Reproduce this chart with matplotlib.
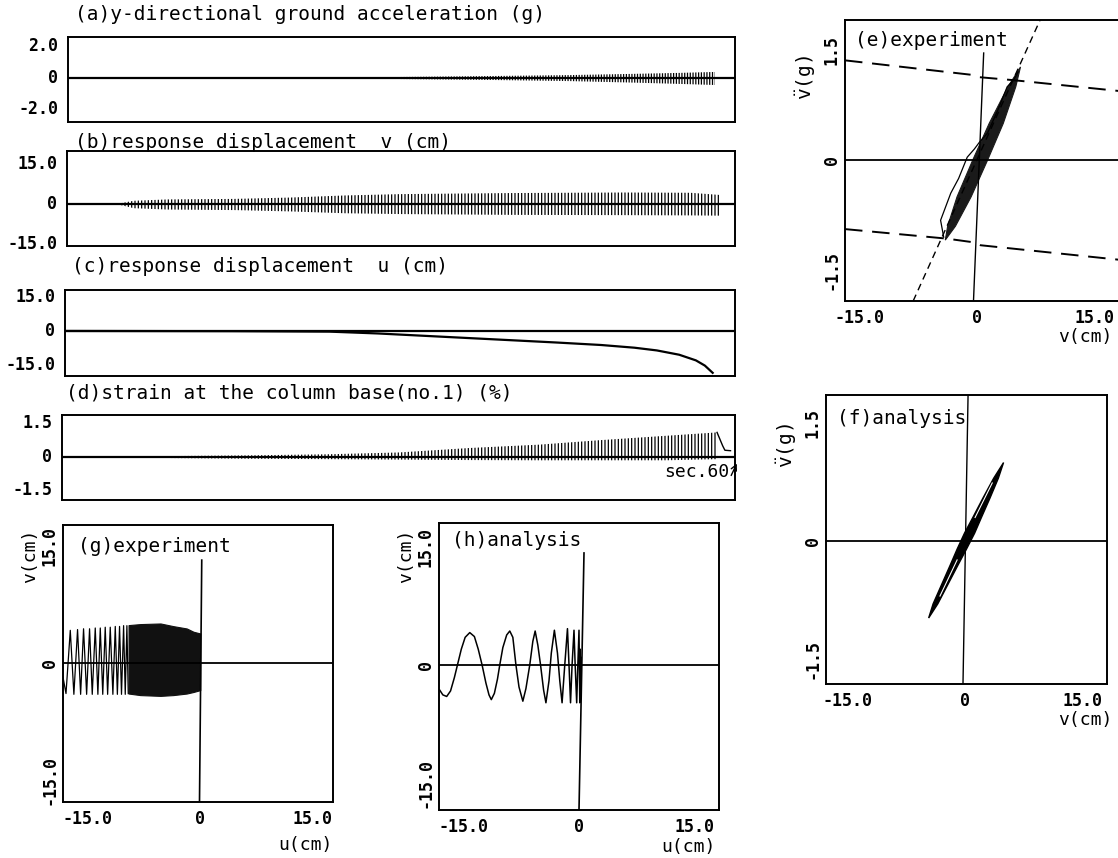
import numpy as np
import matplotlib.pyplot as plt

plt.rcParams['font.family'] = 'DejaVu Sans Mono'
plt.rcParams['hatch.linewidth'] = 0.9

W, H = 1118, 858
MONO = 'DejaVu Sans Mono'

# ---------------- data ----------------
# (a) ground acceleration, envelope of the oscillation (g) vs time (sec)
acc_t = [21, 30, 38, 45, 51, 55, 58.2]
acc_hi = [0.02, 0.06, 0.12, 0.18, 0.26, 0.32, 0.38]
acc_lo = [-0.02, -0.07, -0.13, -0.2, -0.3, -0.38, -0.45]

# (b) response displacement v, envelope (cm)
v_t = [4.7, 6, 9, 15, 20, 25, 30, 40, 50, 56, 58.6]
v_hi = [0.2, 1.2, 1.7, 1.9, 2.4, 3.2, 3.7, 4.1, 4.3, 4.2, 3.4]
v_lo = [-0.3, -1.6, -2.1, -2.3, -2.8, -3.5, -3.8, -4.1, -4.2, -4.3, -4.4]

# (c) response displacement u (cm)
u_t = [0, 15, 23.7, 28, 32, 36, 40, 44, 48, 51, 53, 55, 56.5, 57.3, 58]
u_val = [0, -0.1, -0.3, -1.1, -2.1, -3.1, -4.1, -5.1, -6.2, -7.4, -8.6,
         -10.5, -13.0, -15.3, -18.5]

# (d) strain at the column base, envelope (%)
s_t = [3.4, 10, 16.6, 23.7, 30, 36.3, 42.5, 47.9, 53.9, 58.4]
s_hi = [0.01, 0.04, 0.07, 0.12, 0.2, 0.4, 0.55, 0.75, 0.95, 1.1]
s_lo = [-0.01, -0.05, -0.08, -0.1, -0.12, -0.14, -0.15, -0.15, -0.15, -0.1]
s_tail_t = [58.4, 58.9, 59.1, 59.6]
s_tail = [1.1, 0.5, 0.3, 0.28]

# (e) experiment: acceleration v'' (g) vs v (cm)
e_band_v = [5.5, 4.9, 3.3, 1.3, -0.8, -2.8, -4.1, -3.8, -2.6, -0.6, 1.5, 3.9, 5.5]
e_band_a = [1.27, 1.0, 0.5, 0.0, -0.5, -0.9, -1.09, -0.9, -0.5, 0.0, 0.5, 1.0, 1.27]
e_loop_v = [-4.3, -4.7, -3.4, -2.4, -1.3, -0.4, 0.3, 1.3, 2.6, 3.8, 4.6, 5.2]
e_loop_a = [-1.05, -0.82, -0.45, -0.25, 0.04, 0.15, 0.25, 0.37, 0.68, 1.0, 1.09, 1.2]
e_slope_v = [-8.2, 8.0]
e_slope_a = [-1.92, 1.91]
e_up_v = [-16.9, -0.5, 0.3, 4.6, 18.3]
e_up_a = [1.36, 1.16, 1.13, 1.09, 0.94]
e_lo_v = [-16.9, -3.9, -0.5, 0.4, 18.3]
e_lo_a = [-0.94, -1.07, -1.12, -1.16, -1.36]
e_axis_v = [0.8, -0.5]
e_axis_a = [1.46, -1.92]

# (f) analysis: v'' (g) vs v (cm)
f_band_v = [4.95, 4.28, 3.22, 2.11, 1.24, 0.21, -0.86, -2.17, -3.48, -4.65,
            -4.08, -2.97, -1.86, -0.99, -0.06, 1.01, 2.32, 3.68, 4.95]
f_band_a = [1.0, 0.8, 0.55, 0.3, 0.1, -0.1, -0.3, -0.55, -0.8, -0.98,
            -0.8, -0.55, -0.3, -0.1, 0.1, 0.3, 0.55, 0.8, 1.0]
f_gap1_v = [1.3, 2.4, 3.5]
f_gap1_a = [0.3, 0.52, 0.74]
f_gap2_v = [-3.2, -2.1, -1.0]
f_gap2_a = [-0.7, -0.47, -0.24]
f_axis_v = [0.4, -0.25]
f_axis_a = [1.86, -1.82]

# (g) experiment: v (cm) vs u (cm)
g_block_u = [-9.56, -8.0, -5.3, -3.6, -1.8, -0.9, 0.0]
g_block_top = [4.87, 5.0, 5.08, 4.74, 4.44, 4.02, 3.8]
g_block_bot = [-3.9, -4.1, -4.2, -4.1, -3.9, -3.7, -3.46]
g_spike_u = [-9.6, -9.78, -10.0, -10.22, -10.5, -10.76, -11.05, -11.33, -11.65,
             -12.0, -12.35, -12.67, -13.0, -13.33, -13.65, -14.0, -14.4, -14.76,
             -15.15, -15.56, -15.95, -16.36, -16.85, -17.33, -17.9, -18.3]
g_spike_v = [-3.9, 4.8, -4.0, 4.8, -4.0, 4.7, -4.0, 4.7, -4.0, 4.6, -4.0, 4.6,
             -4.0, 4.5, -4.0, 4.5, -4.0, 4.4, -4.0, 4.4, -4.0, 4.3, -4.0, 4.2,
             -3.9, -1.8]
g_axis_u = [0.2, -0.1]
g_axis_v = [13.2, -17.8]

# (h) analysis: v (cm) vs u (cm)
h_u = [-18.1, -17.7, -17.2, -16.7, -16.2, -15.8, -15.3, -14.8, -14.2, -13.6,
       -13.1, -12.6, -12.1, -11.7, -11.4, -11.0, -10.6, -10.3, -9.9, -9.4,
       -9.0, -8.6, -8.2, -7.8, -7.3, -6.9, -6.4, -6.0, -5.7, -5.35, -5.0,
       -4.6, -4.3, -3.9, -3.6, -3.2, -2.8, -2.5, -2.2, -1.85, -1.5, -1.3,
       -1.1, -0.9, -0.65, -0.5, -0.3, -0.15, 0.0, 0.05, 0.1, 0.15, 0.2, 0.25, 0.3]
h_v = [-3.2, -3.8, -4.0, -3.3, -1.6, 0.0, 2.0, 3.5, 4.1, 3.6,
       2.0, 0.0, -2.3, -3.8, -4.4, -3.6, -1.8, 0.0, 2.2, 3.8,
       4.3, 3.5, 0.0, -2.8, -4.6, -3.0, 0.0, 3.0, 4.3, 2.5, 0.0,
       -3.2, -4.8, -2.0, 1.5, 4.4, 1.5, -2.0, -4.8, 0.0, 4.6, 0.0,
       -4.8, 0.0, 4.4, 0.0, -4.8, 0.0, 4.4, 0.0, -4.8, 2.0, -2.0, 1.0, 0.0]
h_axis_u = [0.65, 0.0]
h_axis_v = [14.2, -18.4]

# ---------------- drawing ----------------
fig = plt.figure(figsize=(W / 100, H / 100), dpi=100)


def panel(x0, y0, x1, y1, ypad=7):
    ax = fig.add_axes([x0 / W, 1 - y1 / H, (x1 - x0) / W, (y1 - y0) / H])
    for s in ax.spines.values():
        s.set_linewidth(1.4)
    ax.tick_params(length=0, labelsize=12, pad=6)
    ax.tick_params(axis='y', pad=ypad)
    return ax


def ftext(x, y, s, **kw):
    kw.setdefault('fontsize', 14)
    kw.setdefault('family', MONO)
    fig.text(x / W, 1 - y / H, s, **kw)


def yticks(ax, vals, labels, rot=0):
    ax.set_yticks(vals)
    ax.set_yticklabels(labels, rotation=rot, va='center', fontweight='bold')


def xticks(ax, vals, labels):
    ax.set_xticks(vals)
    ax.set_xticklabels(labels, fontweight='bold')


# (a)
ax = panel(68, 37, 735, 122)
ax.set_xlim(0, 60)
ax.set_ylim(-2.8, 2.6)
ax.set_xticks([])
yticks(ax, [-2, 0, 2], ['-2.0', '0', '2.0'])
ax.axhline(0, color='k', lw=1.6)
ax.fill_between(acc_t, acc_lo, acc_hi, facecolor='none', edgecolor='k',
                lw=0, hatch='||||||')
ftext(75, 15, '(a)y-directional ground acceleration (g)', va='center')

# (b)
ax = panel(67, 151, 735, 246)
ax.set_xlim(0, 60)
ax.set_ylim(-15.8, 19.9)
ax.set_xticks([])
yticks(ax, [-15, 0, 15], ['-15.0', '0', '15.0'])
ax.axhline(0, color='k', lw=1.6)
ax.fill_between(v_t, v_lo, v_hi, facecolor='none', edgecolor='k',
                lw=0, hatch='|||||')
ftext(75, 143, '(b)response displacement  v (cm)', va='center')

# (c)
ax = panel(65, 290, 735, 376)
ax.set_xlim(0, 60)
ax.set_ylim(-19.9, 18.1)
ax.set_xticks([])
yticks(ax, [-15, 0, 15], ['-15.0', '0', '15.0'])
ax.axhline(0, color='k', lw=1.6)
ax.plot(u_t, u_val, color='k', lw=1.6)
ftext(72, 267, '(c)response displacement  u (cm)', va='center')

# (d)
ax = panel(62, 415, 735, 500)
ax.set_xlim(0, 60)
ax.set_ylim(-1.93, 1.88)
ax.set_xticks([])
yticks(ax, [-1.5, 0, 1.5], ['-1.5', '0', '1.5'])
ax.axhline(0, color='k', lw=1.6)
ax.fill_between(s_t, s_lo, s_hi, facecolor='none', edgecolor='k',
                lw=0, hatch='|||||')
ax.plot(s_tail_t, s_tail, color='k', lw=1.0)
ftext(66, 393, '(d)strain at the column base(no.1) (%)', va='center')
ftext(729, 472, 'sec.60', ha='right', va='center', fontsize=13)
ax.annotate('', xy=(738, H - 461), xytext=(730, H - 478),
            xycoords='figure pixels', textcoords='figure pixels',
            arrowprops=dict(arrowstyle='->', lw=1.0, color='k'))

# (e)
ax = panel(845, 20, 1120, 301, ypad=3)
ax.set_xlim(-16.9, 18.2)
ax.set_ylim(-1.92, 1.91)
xticks(ax, [-15, 0, 15], ['-15.0', '0', '15.0'])
yticks(ax, [-1.5, 0, 1.5], ['-1.5', '0', '1.5'], rot=90)
ax.axhline(0, color='k', lw=1.3)
ax.plot(e_axis_v, e_axis_a, color='k', lw=1.0)
ax.plot(e_up_v, e_up_a, color='k', lw=1.4, ls=(0, (9, 5)))
ax.plot(e_lo_v, e_lo_a, color='k', lw=1.4, ls=(0, (9, 5)))
ax.plot(e_slope_v, e_slope_a, color='k', lw=1.0, ls=(0, (5, 3.5)))
ax.fill(e_band_v, e_band_a, color='#1a1a1a', lw=0.8)
ax.plot(e_loop_v, e_loop_a, color='k', lw=0.9)
ftext(855, 40, '(e)experiment', va='center', fontsize=14)
ftext(806, 78, r'$\ddot{\mathtt{v}}$(g)', va='center', ha='center',
      rotation=90, fontsize=14)
ftext(1085, 337, 'v(cm)', va='center', ha='center', fontsize=13)

# (f)
ax = panel(826, 395, 1107, 684, ypad=3)
ax.set_xlim(-17.8, 18.2)
ax.set_ylim(-1.82, 1.86)
xticks(ax, [-15, 0, 15], ['-15.0', '0', '15.0'])
yticks(ax, [-1.5, 0, 1.5], ['-1.5', '0', '1.5'], rot=90)
ax.axhline(0, color='k', lw=1.3)
ax.plot(f_axis_v, f_axis_a, color='k', lw=1.0)
ax.fill(f_band_v, f_band_a, color='k', lw=1.0)
ax.plot(f_gap1_v, f_gap1_a, color='w', lw=0.8)
ax.plot(f_gap2_v, f_gap2_a, color='w', lw=0.8)
ftext(837, 418, '(f)analysis', va='center', fontsize=14)
ftext(787, 446, r'$\ddot{\mathtt{v}}$(g)', va='center', ha='center',
      rotation=90, fontsize=14)
ftext(1085, 720, 'v(cm)', va='center', ha='center', fontsize=13)

# (g)
ax = panel(63, 525, 333, 802, ypad=3)
ax.set_xlim(-18.3, 17.7)
ax.set_ylim(-17.8, 17.7)
xticks(ax, [-15, 0, 15], ['-15.0', '0', '15.0'])
yticks(ax, [-15, 0, 15], ['-15.0', '0', '15.0'], rot=90)
ax.axhline(0, color='k', lw=1.3)
ax.plot(g_axis_u, g_axis_v, color='k', lw=1.2)
ax.fill_between(g_block_u, g_block_bot, g_block_top, color='#111111', lw=0.8)
ax.plot(g_spike_u, g_spike_v, color='k', lw=0.9)
ftext(78, 547, '(g)experiment', va='center', fontsize=14)
ftext(30, 556, 'v(cm)', va='center', ha='center', rotation=90, fontsize=13)
ftext(305, 845, 'u(cm)', va='center', ha='center', fontsize=13)

# (h)
ax = panel(439, 523, 719, 810, ypad=3)
ax.set_xlim(-18.2, 18.2)
ax.set_ylim(-18.4, 18.0)
xticks(ax, [-15, 0, 15], ['-15.0', '0', '15.0'])
yticks(ax, [-15, 0, 15], ['-15.0', '0', '15.0'], rot=90)
ax.axhline(0, color='k', lw=1.3)
ax.plot(h_axis_u, h_axis_v, color='k', lw=1.2)
ax.plot(h_u, h_v, color='k', lw=1.1)
ftext(452, 540, '(h)analysis', va='center', fontsize=14)
ftext(406, 556, 'v(cm)', va='center', ha='center', rotation=90, fontsize=13)
ftext(688, 847, 'u(cm)', va='center', ha='center', fontsize=13)

fig.savefig('out.png', dpi=100)
